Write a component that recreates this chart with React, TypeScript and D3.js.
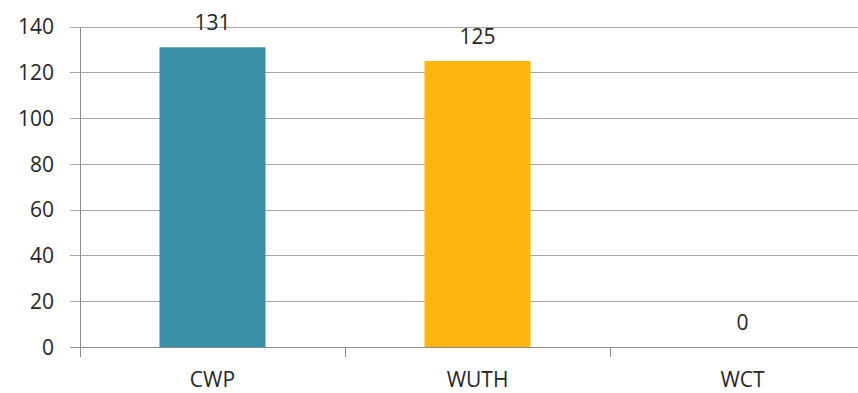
import React from "react";
import * as d3 from "d3";

const categories = ["CWP", "WUTH", "WCT"];
const values = [131, 125, 0];
const barColors = ["#3A91A7", "#FDB50F", "#888888"];
const yTicks = [0, 20, 40, 60, 80, 100, 120, 140];

const W = 858;
const H = 393;
const left = 80;
const step = 265;
const y0 = 347;
const yTop = 26.7;
const font = "'Open Sans', sans-serif";
const textColor = "#262626";
const fs = 21;

export default function App() {
  const x = d3
    .scaleBand<string>()
    .domain(categories)
    .range([left, left + step * categories.length])
    .paddingInner(0.6)
    .paddingOuter(0.3);
  const y = d3.scaleLinear().domain([0, 140]).range([y0, yTop]);
  const boundaries = categories.map((_, i) => left + step * i);

  return (
    <svg
      width={W}
      height={H}
      style={{ position: "absolute", left: 0, top: 0, background: "#fff" }}
      fontFamily={font}
    >
      {yTicks.map((t) => (
        <g key={t}>
          <line
            x1={70}
            x2={W}
            y1={Math.round(y(t)) + 0.5}
            y2={Math.round(y(t)) + 0.5}
            stroke={t === 0 ? "#8c8c8c" : "#a6a6a6"}
            strokeWidth={1}
          />
          <text
            x={54}
            y={y(t)}
            dy="0.36em"
            textAnchor="end"
            fontSize={fs}
            fill={textColor}
          >
            {t}
          </text>
        </g>
      ))}
      <line
        x1={left + 0.5}
        x2={left + 0.5}
        y1={Math.round(yTop)}
        y2={357}
        stroke="#8c8c8c"
        strokeWidth={1}
      />
      {boundaries.slice(1).map((b) => (
        <line
          key={b}
          x1={b + 0.5}
          x2={b + 0.5}
          y1={y0}
          y2={357}
          stroke="#8c8c8c"
          strokeWidth={1}
        />
      ))}
      {categories.map((c, i) => (
        <g key={c}>
          {values[i] > 0 && (
            <rect
              x={x(c)}
              y={y(values[i])}
              width={x.bandwidth()}
              height={y0 - y(values[i])}
              fill={barColors[i]}
            />
          )}
          <text
            x={(x(c) as number) + x.bandwidth() / 2}
            y={y(values[i]) - 25}
            dy="0.36em"
            textAnchor="middle"
            fontSize={fs}
            fill={textColor}
          >
            {values[i]}
          </text>
          <text
            x={(x(c) as number) + x.bandwidth() / 2}
            y={387}
            textAnchor="middle"
            fontSize={fs}
            fill={textColor}
          >
            {c}
          </text>
        </g>
      ))}
    </svg>
  );
}
